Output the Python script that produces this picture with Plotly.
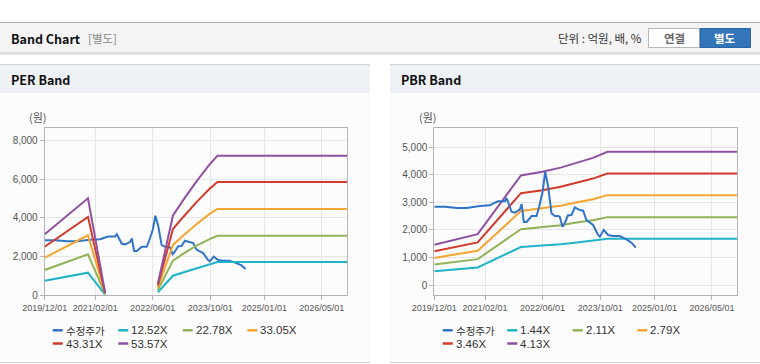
import plotly.graph_objects as go

W, H = 760, 364

# ---------------- data ----------------
price_dates = ["2019-12-01", "2020-03-01", "2020-06-07", "2020-08-30", "2020-12-20", "2021-03-14",
               "2021-04-26", "2021-05-23", "2021-07-19", "2021-08-02", "2021-09-13", "2021-10-11",
               "2021-11-22", "2021-12-07", "2021-12-26", "2022-01-18", "2022-03-01", "2022-04-12",
               "2022-05-04", "2022-06-02", "2022-06-24", "2022-07-19", "2022-08-16", "2022-09-13",
               "2022-10-11", "2022-10-25", "2022-11-17", "2022-12-07", "2023-01-03", "2023-02-01",
               "2023-03-01", "2023-04-12", "2023-05-10", "2023-06-07", "2023-08-02", "2023-09-13",
               "2023-09-28", "2023-10-31", "2023-12-07", "2024-01-18", "2024-03-14", "2024-05-10",
               "2024-06-21", "2024-07-27"]
price_values = [2841, 2840, 2794, 2794, 2866, 2890,
                2985, 3036, 3036, 3155, 2660, 2624,
                2747, 2938, 2288, 2288, 2505, 2505,
                2841, 3383, 4106, 3564, 2602, 2505,
                2505, 2480, 2118, 2263, 2530, 2541,
                2819, 2721, 2697, 2360, 2179, 1818,
                1757, 1999, 1818, 1782, 1782, 1662,
                1540, 1359]

per_dates = ["2019-12-01", "2020-12-01", "2021-04-25", "2021-12-01", "2022-07-15", "2022-11-20",
             "2023-02-13", "2023-06-07", "2023-09-26", "2023-12-01", "2026-12-01"]
per_names = ["12.52X", "22.78X", "33.05X", "43.31X", "53.57X"]
per_1252 = [754, 1166, 40, None, 160, 1010, 1180, 1400, 1600, 1720, 1720]
per_2278 = [1306, 2116, 70, None, 270, 1790, 2140, 2560, 2900, 3076, 3076]
per_3305 = [1941, 3097, 95, None, 390, 2600, 3070, 3670, 4200, 4454, 4454]
per_4331 = [2508, 4050, 120, None, 500, 3420, 4030, 4810, 5500, 5848, 5848]
per_5357 = [3150, 5006, 150, None, 600, 4120, 4900, 5880, 6760, 7205, 7205]

pbr_dates = ["2019-12-01", "2020-12-01", "2021-12-01", "2022-06-01", "2022-11-01", "2023-03-01",
             "2023-08-01", "2023-12-01", "2026-12-01"]
pbr_names = ["1.44X", "2.11X", "2.79X", "3.46X", "4.13X"]
pbr_144 = [511, 645, 1385, 1431, 1483, 1541, 1606, 1682, 1682]
pbr_211 = [749, 945, 2030, 2097, 2173, 2258, 2353, 2464, 2464]
pbr_279 = [990, 1250, 2684, 2773, 2874, 2985, 3111, 3259, 3259]
pbr_346 = [1228, 1550, 3329, 3439, 3564, 3702, 3858, 4041, 4041]
pbr_413 = [1466, 1850, 3973, 4105, 4254, 4419, 4605, 4824, 4824]

x_tick_vals = ["2019-12-01", "2021-02-01", "2022-06-01", "2023-10-01", "2025-01-01", "2026-05-01"]
x_tick_text = ["2019/12/01", "2021/02/01", "2022/06/01", "2023/10/01", "2025/01/01", "2026/05/01"]

price_name = "수정주가"
colors = ["#2f74c8", "#1fb3c6", "#8fb356", "#f5a530", "#d33a2c", "#8f52a0"]

# ---------------- helpers ----------------
def px(x):
    return x / W

def py(y):
    return 1 - y / H

FONT_NUM = "Liberation Sans Narrow, Liberation Sans, Arial, sans-serif"
FONT_KR = "Noto Sans CJK KR, Liberation Sans, sans-serif"

fig = go.Figure()

# PER traces
fig.add_trace(go.Scatter(x=price_dates, y=price_values, mode="lines", name=price_name,
                         line=dict(color=colors[0], width=2), xaxis="x", yaxis="y"))
for i, vals in enumerate([per_1252, per_2278, per_3305, per_4331, per_5357]):
    fig.add_trace(go.Scatter(x=per_dates, y=vals, mode="lines", name=per_names[i],
                             line=dict(color=colors[i + 1], width=2), connectgaps=False,
                             xaxis="x", yaxis="y"))
# PBR traces
for i, vals in enumerate([pbr_144, pbr_211, pbr_279, pbr_346, pbr_413]):
    fig.add_trace(go.Scatter(x=pbr_dates, y=vals, mode="lines", name=pbr_names[i],
                             line=dict(color=colors[i + 1], width=2), xaxis="x2", yaxis="y2"))
fig.add_trace(go.Scatter(x=price_dates, y=price_values, mode="lines", name=price_name,
                         line=dict(color=colors[0], width=2), xaxis="x2", yaxis="y2"))

axis_common = dict(showline=True, mirror=True, linecolor="#b4b4b4", linewidth=1,
                   gridcolor="#e6e6e6", gridwidth=1, ticks="outside", ticklen=4,
                   tickcolor="#b4b4b4", zeroline=False, tickangle=0, automargin=False,
                   tickfont=dict(family=FONT_NUM, size=10, color="#555555"))

xa = dict(axis_common, type="date", range=["2019-12-01", "2026-12-01"],
          tickmode="array", tickvals=x_tick_vals, ticktext=x_tick_text,
          tickfont=dict(family=FONT_NUM, size=9, color="#555555"))

ydom = [py(295.3), py(128.3)]
fig.update_layout(
    width=W, height=H, margin=dict(l=0, r=0, t=0, b=0, pad=0), autosize=False,
    paper_bgcolor="#ffffff", plot_bgcolor="rgba(0,0,0,0)",
    showlegend=False,
    xaxis=dict(xa, domain=[px(44.7), px(347)], anchor="y"),
    yaxis=dict(axis_common, domain=ydom, range=[0, 8620], tickmode="array",
               tickvals=[0, 2000, 4000, 6000, 8000], tickformat=",", anchor="x"),
    xaxis2=dict(xa, domain=[px(434.3), px(737.3)], anchor="y2"),
    yaxis2=dict(axis_common, domain=ydom, range=[-362, 5676], tickmode="array",
                tickvals=[0, 1000, 2000, 3000, 4000, 5000], tickformat=",", anchor="x2"),
)

shapes = []
annotations = []

def rect(x0, y0, x1, y1, fill, line=None):
    shapes.append(dict(type="rect", xref="paper", yref="paper", x0=px(x0), x1=px(x1),
                       y0=py(y1), y1=py(y0), fillcolor=fill, layer="below",
                       line=dict(width=0) if line is None else line))

def hline(x0, x1, y, color, width=1):
    shapes.append(dict(type="line", xref="paper", yref="paper", x0=px(x0), x1=px(x1),
                       y0=py(y), y1=py(y), line=dict(color=color, width=width), layer="below"))

def text(x, y, s, size, color, family=FONT_KR, anchor="left", bold=False):
    if bold:
        s = "<b>" + s + "</b>"
    annotations.append(dict(xref="paper", yref="paper", x=px(x), y=py(y), text=s,
                            showarrow=False, xanchor=anchor, yanchor="middle", borderpad=0,
                            font=dict(family=family, size=size, color=color)))

# top header bar
rect(0, 22, 760, 53, "#f4f4f4")
hline(0, 760, 22.5, "#b0b0b0")
hline(0, 760, 53, "#c4c4c4")
hline(0, 760, 54.5, "#e6e6e6")
text(10, 38.5, "Band Chart", 12.5, "#111111", bold=True)
text(87, 38.5, "[별도]", 11.5, "#8a8a8a")
text(643, 38.5, "단위 : 억원, 배, %", 11.5, "#333333", anchor="right")
# buttons
shapes.append(dict(type="rect", xref="paper", yref="paper", x0=px(648.5), x1=px(700),
                   y0=py(47.5), y1=py(28.5), fillcolor="#ffffff",
                   line=dict(color="#b8b8b8", width=1), layer="below"))
shapes.append(dict(type="rect", xref="paper", yref="paper", x0=px(700), x1=px(750.5),
                   y0=py(47.5), y1=py(28.5), fillcolor="#3474b8",
                   line=dict(color="#2c66a6", width=1), layer="below"))
text(674, 38.5, "연결", 11.5, "#666666", bold=True, anchor="center")
text(725, 38.5, "별도", 11.5, "#ffffff", bold=True, anchor="center")

# panels
for (x0, x1, title, tx) in [(0, 370, "PER Band", 10), (390, 760, "PBR Band", 400)]:
    rect(x0, 64, x1, 362, "#fcfcfc")
    rect(x0, 64, x1, 93, "#eef2f7")
    hline(x0, x1, 64.5, "#d2d2d2")
    hline(x0, x1, 362.5, "#d2d2d2")
    text(tx, 79.5, title, 12.5, "#111111", bold=True)

text(28, 117.5, "(원)", 11, "#555555")
text(418, 117.5, "(원)", 11, "#555555")

# legends
def legend_item(x, y, color, label):
    shapes.append(dict(type="line", xref="paper", yref="paper", x0=px(x), x1=px(x + 10),
                       y0=py(y), y1=py(y), line=dict(color=color, width=2.5)))
    if label == price_name:
        text(x + 12, y, label, 10.5, "#333333", family=FONT_KR)
    else:
        text(x + 12, y, label, 11.5, "#333333", family=FONT_NUM)

per_leg = [(52.7, 330.3), (118.3, 330.3), (182.7, 330.3), (247.3, 330.3), (52.7, 343.5), (118.3, 343.5)]
pbr_leg = [(442.7, 330.3), (507.3, 330.3), (572.7, 330.3), (637.3, 330.3), (442.7, 343.5), (507.3, 343.5)]
per_labels = [price_name] + per_names
pbr_labels = [price_name] + pbr_names
for i in range(6):
    legend_item(per_leg[i][0], per_leg[i][1], colors[i], per_labels[i])
    legend_item(pbr_leg[i][0], pbr_leg[i][1], colors[i], pbr_labels[i])

fig.update_layout(shapes=shapes, annotations=annotations)
fig.write_html("out.html", config={"displayModeBar": False},
               post_script="document.body.style.margin='0';document.body.style.padding='0';document.body.style.overflow='hidden';")
